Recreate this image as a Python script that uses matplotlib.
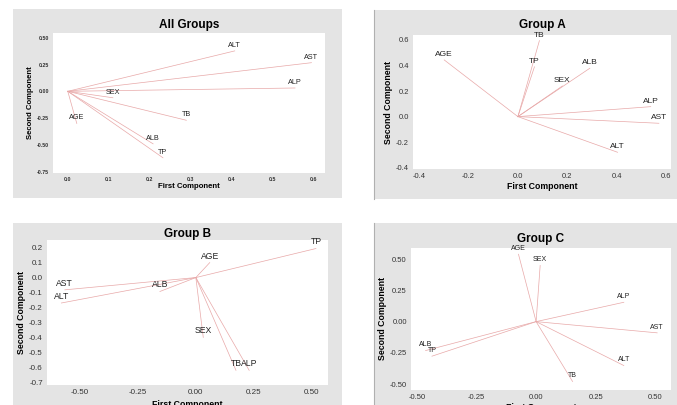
import matplotlib.pyplot as plt
from matplotlib.patches import Rectangle
from matplotlib.lines import Line2D

plt.rcParams['font.family'] = ['Liberation Sans', 'DejaVu Sans']

# loadings (first component, second component)
names_all = ['ALT', 'AST', 'ALP', 'SEX', 'TB', 'AGE', 'ALB', 'TP']
pc1_all = [0.407, 0.594, 0.554, 0.11, 0.289, 0.022, 0.208, 0.232]
pc2_all = [0.377, 0.267, 0.031, -0.06, -0.27, -0.30, -0.49, -0.62]

names_a = ['TB', 'TP', 'AGE', 'ALB', 'SEX', 'ALP', 'AST', 'ALT']
pc1_a = [0.087, 0.067, -0.298, 0.291, 0.18, 0.537, 0.570, 0.403]
pc2_a = [0.595, 0.39, 0.444, 0.379, 0.24, 0.078, -0.052, -0.279]

names_b = ['TP', 'AGE', 'AST', 'ALT', 'ALB', 'SEX', 'TB', 'ALP']
pc1_b = [0.518, 0.060, -0.565, -0.58, -0.155, 0.032, 0.173, 0.23]
pc2_b = [0.194, 0.10, -0.082, -0.17, -0.093, -0.40, -0.62, -0.62]

names_c = ['AGE', 'SEX', 'ALP', 'AST', 'ALT', 'TB', 'ALB', 'TP']
pc1_c = [-0.074, 0.017, 0.368, 0.508, 0.368, 0.153, -0.464, -0.437]
pc2_c = [0.54, 0.45, 0.155, -0.09, -0.352, -0.48, -0.232, -0.277]

W, H = 677, 405
fig = plt.figure(figsize=(W / 100, H / 100), dpi=100)
gray = '#e4e4e4'


def box(x0, y0, x1, y1):
    # pixel box (top-left origin) -> figure fraction
    return [x0 / W, 1 - y1 / H, (x1 - x0) / W, (y1 - y0) / H]


# gray panel backgrounds
for (x0, y0, x1, y1) in [(13, 9, 342, 198), (374, 10, 677, 199),
                         (13, 223, 342, 410), (374, 223, 677, 410)]:
    fig.patches.append(Rectangle((x0 / W, 1 - y1 / H), (x1 - x0) / W, (y1 - y0) / H,
                                 transform=fig.transFigure, facecolor=gray,
                                 edgecolor='none', zorder=-2))
for (y0, y1) in [(10, 199), (223, 405)]:
    fig.lines.append(Line2D([374 / W, 374 / W], [1 - y0 / H, 1 - y1 / H],
                            transform=fig.transFigure, color='#b0b0b0', lw=0.8,
                            zorder=-1))


def panel(rect, names, xs, ys, title, xlim, ylim, xticks, yticks, fmt,
          tick_fs, tick_bold, lab_fs, name_fs, title_pad, xlabelpad):
    ax = fig.add_axes(box(*rect))
    ax.set_facecolor('white')
    for s in ax.spines.values():
        s.set_visible(False)
    for n, x, y in zip(names, xs, ys):
        ax.plot([0, x], [0, y], color='#e8a8a8', lw=0.5)
        ax.annotate(n, (x, y), xytext=(0, 1.5), textcoords='offset points',
                    ha='center', va='bottom', fontsize=name_fs, color='#222222')
    ax.set_xlim(*xlim)
    ax.set_ylim(*ylim)
    ax.set_xticks(xticks)
    ax.set_yticks(yticks)
    ax.set_xticklabels([fmt.format(v) for v in xticks])
    ax.set_yticklabels([fmt.format(v) for v in yticks])
    ax.tick_params(length=0, labelsize=tick_fs, colors='#333333', pad=3)
    if tick_bold:
        for t in ax.get_xticklabels() + ax.get_yticklabels():
            t.set_fontweight('bold')
    ax.set_xlabel('First Component', fontsize=lab_fs, fontweight='bold', labelpad=xlabelpad)
    ax.set_ylabel('Second Component', fontsize=lab_fs, fontweight='bold', labelpad=2)
    ax.set_title(title, fontsize=8.5, fontweight='bold', pad=title_pad)
    return ax


ax1 = panel((53, 33, 325, 173), names_all, pc1_all, pc2_all, 'All Groups',
            (-0.036, 0.627), (-0.762, 0.544),
            [0.0, 0.1, 0.2, 0.3, 0.4, 0.5, 0.6], [-0.75, -0.5, -0.25, 0.0, 0.25, 0.5],
            '{:.2f}', 3.8, True, 5.6, 5.2, 3.5, 0.5)
ax1.set_xticklabels(['0.0', '0.1', '0.2', '0.3', '0.4', '0.5', '0.6'], fontweight='bold')

ax2 = panel((413, 35, 671, 169), names_a, pc1_a, pc2_a, 'Group A',
            (-0.424, 0.619), (-0.41, 0.639),
            [-0.4, -0.2, 0.0, 0.2, 0.4, 0.6], [-0.4, -0.2, 0.0, 0.2, 0.4, 0.6],
            '{:.1f}', 5.4, False, 6.3, 6, 5, 1)

ax3 = panel((47, 240, 328, 385), names_b, pc1_b, pc2_b, 'Group B',
            (-0.642, 0.570), (-0.718, 0.251),
            [-0.5, -0.25, 0.0, 0.25, 0.5], [-0.7, -0.6, -0.5, -0.4, -0.3, -0.2, -0.1, 0.0, 0.1, 0.2],
            '{:.2f}', 5.8, False, 6.3, 6.2, 1, 3)
ax3.set_yticklabels(['{:.1f}'.format(v) for v in ax3.get_yticks()])

ax4 = panel((411, 248, 671, 390), names_c, pc1_c, pc2_c, 'Group C',
            (-0.525, 0.566), (-0.548, 0.59),
            [-0.5, -0.25, 0.0, 0.25, 0.5], [-0.5, -0.25, 0.0, 0.25, 0.5],
            '{:.2f}', 5.5, False, 6.3, 5, 4, 1)

fig.savefig('out.png', dpi=100)
